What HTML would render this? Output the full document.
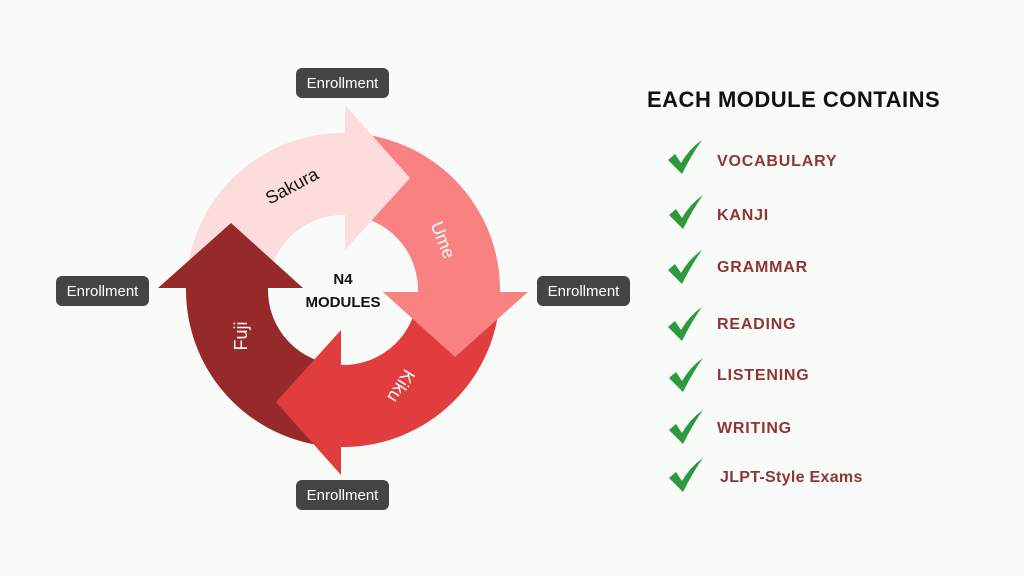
<!DOCTYPE html>
<html><head><meta charset="utf-8"><style>
html,body{margin:0;padding:0;background:#f8fbf8;}
body{width:1024px;height:576px;overflow:hidden;position:relative;font-family:"Liberation Sans",sans-serif;}
</style></head><body>
<svg width="1024" height="576" viewBox="0 0 1024 576" style="position:absolute;left:0;top:0">
<rect width="1024" height="576" fill="#f8fbf8"/>
<path d="M186,290 A157,157 0 0 1 345,133 L345,215 A75,75 0 0 0 268,290 Z" fill="#fcdcdc"/>
<path d="M345,133 A157,157 0 0 1 500,292 L418,292 A75,75 0 0 0 345,215 Z" fill="#f98181"/>
<path d="M500,292 A157,157 0 0 1 341,447 L341,365 A75,75 0 0 0 418,292 Z" fill="#e23d3e"/>
<path d="M341,447 A157,157 0 0 1 186,288 L268,288 A75,75 0 0 0 341,365 Z" fill="#962a2b"/>
<path d="M345,105 L410,178 L345,250 Z" fill="#fcdcdc"/>
<path d="M528,292 L383,292 L455,357 Z" fill="#f98181"/>
<path d="M341,475 L341,330 L276,402 Z" fill="#e23d3e"/>
<path d="M158,288 L303,288 L231,223 Z" fill="#962a2b"/>
<text x="292" y="192" font-size="18" fill="#111" text-anchor="middle" transform="rotate(-28 292 186)">Sakura</text>
<text x="443" y="246" font-size="18" fill="#fff" text-anchor="middle" transform="rotate(68 443 240)">Ume</text>
<text x="401" y="392" font-size="18" fill="#fff" text-anchor="middle" transform="rotate(122 401 386)">Kiku</text>
<text x="241" y="342" font-size="18" fill="#fff" text-anchor="middle" transform="rotate(-90 241 336)">Fuji</text>
<text x="343" y="284" font-size="15" font-weight="bold" fill="#111" text-anchor="middle">N4</text>
<text x="343" y="307" font-size="15" font-weight="bold" fill="#111" text-anchor="middle">MODULES</text>
<g font-size="15" fill="#fff" text-anchor="middle">
<rect x="296" y="68" width="93" height="30" rx="6" fill="#444"/><text x="342.5" y="88">Enrollment</text>
<rect x="56" y="276" width="93" height="30" rx="6" fill="#444"/><text x="102.5" y="296">Enrollment</text>
<rect x="537" y="276" width="93" height="30" rx="6" fill="#444"/><text x="583.5" y="296">Enrollment</text>
<rect x="296" y="480" width="93" height="30" rx="6" fill="#444"/><text x="342.5" y="500">Enrollment</text>
</g>
<text x="647" y="107" font-size="22" font-weight="bold" fill="#111" letter-spacing="0.5">EACH MODULE CONTAINS</text>
<defs><path id="ck" d="M0,14 L7,8 L13,17 Q21,3 34,-6 Q24,8 14,28 Z" fill="#2e9a3e"/></defs>
<g font-size="16" font-weight="bold" fill="#8f3535" letter-spacing="0.8">
<use href="#ck" x="668" y="146"/><text x="717" y="166">VOCABULARY</text>
<use href="#ck" x="669" y="201"/><text x="717" y="220">KANJI</text>
<use href="#ck" x="668" y="256"/><text x="717" y="272">GRAMMAR</text>
<use href="#ck" x="668" y="313"/><text x="717" y="329">READING</text>
<use href="#ck" x="669" y="364"/><text x="717" y="380">LISTENING</text>
<use href="#ck" x="669" y="416"/><text x="717" y="433">WRITING</text>
<use href="#ck" x="669" y="464"/><text x="720" y="482" letter-spacing="0.3">JLPT-Style Exams</text>
</g>
</svg>
</body></html>
